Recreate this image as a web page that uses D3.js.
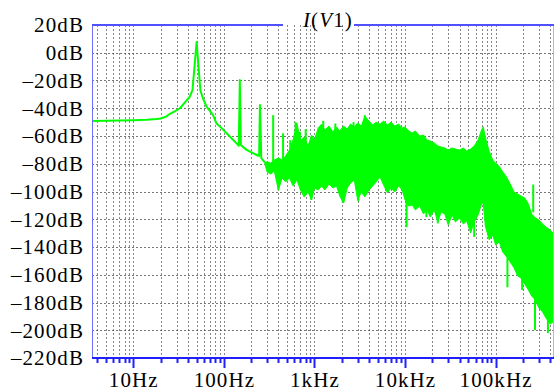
<!DOCTYPE html>
<html>
<head>
<meta charset="utf-8">
<script src="https://cdn.jsdelivr.net/npm/d3@7"></script>
<style>
  html, body { margin: 0; padding: 0; background: #fff; }
  svg { display: block; }
  text { font-family: "Liberation Serif", "Times New Roman", serif; fill: #000; }
</style>
</head>
<body>
<svg id="chart" width="554" height="391"></svg>
<script>
// ---------- data ----------
const xTickValues = [10, 100, 1000, 10000, 100000];
const xTickLabels = ["10Hz", "100Hz", "1kHz", "10kHz", "100kHz"];
const yTickValues = [20, 0, -20, -40, -60, -80, -100, -120, -140, -160, -180, -200, -220];
const yTickLabels = ["20dB", "0dB", "\u201320dB", "\u201340dB", "\u201360dB", "\u201380dB", "\u2013100dB",
                     "\u2013120dB", "\u2013140dB", "\u2013160dB", "\u2013180dB", "\u2013200dB", "\u2013220dB"];
const seriesName = "I(V1)";

// clean low-frequency part of the spectrum (Hz, dB)
const lineFreq = [3.5, 5, 7, 10, 14, 18, 20, 23, 25.4, 29, 32.7, 38, 42, 45, 50, 55, 58.5, 64.5, 76, 83, 95,
                  112, 138, 146, 150, 154, 178, 230, 245, 250, 259, 283];
const lineDb   = [-49.2, -49, -48.8, -48.6, -48.3, -47.8, -47.4, -46, -44, -42, -40, -35, -31.7, -27, 7.7, -27, -32.6, -38.9, -45, -51, -54.5,
                  -59.3, -65.3, -67, -19.6, -66.5, -70, -73.7, -74.4, -37.7, -76, -79];

// dense noisy part: upper and lower envelope (Hz, dB)
const bandFreq = [283, 300, 330, 360, 400, 440, 480, 530, 580, 640, 700, 770, 850, 930, 1000, 1100, 1200, 1300, 1450,
                  1600, 1750, 1900, 2100, 2300, 2500, 2750, 3000, 3300, 3600, 4000, 4400, 4800, 5300, 5800, 6400,
                  7000, 7700, 8500, 9300, 10000, 11000, 12000, 13000, 14500, 16000, 17500, 19000, 21000, 23000,
                  25000, 27500, 30000, 33000, 36000, 40000, 44000, 48000, 53000, 58000, 64000, 70000, 73000, 77000,
                  85000, 93000, 100000, 110000, 120000, 130000, 145000, 160000, 175000, 190000, 210000, 230000,
                  250000, 275000, 300000, 330000, 360000, 400000, 430000];
const bandHigh = [-79, -78.7, -79.5, -77.3, -75.9, -77.3, -74.4, -70.1, -62.9, -50.6, -63.6, -60.7, -67.2, -59.3, -62.9, -54.2, -51.4, -55.7, -52.8,
                  -57.1, -53.5, -56.4, -52.8, -55.0, -51.4, -53.5, -50.6, -52.8, -45.6, -49.2, -52.1, -50.0, -51.4, -49.2, -52.1,
                  -50.0, -52.8, -51.4, -54.2, -53.5, -56.4, -57.8, -56.4, -60.0, -59.3, -62.9, -63.6, -65.0, -67.2,
                  -67.9, -68.6, -70.1, -68.6, -69.4, -70.1, -68.6, -70.8, -69.4, -67.2, -62.9, -55.7, -53.3, -61.0,
                  -71.0, -77.3, -79.5, -82.0, -86.0, -88.8, -94.6, -100.4, -101.8, -103.2, -104.7, -109.0,
                  -116.2, -119.1, -120.5, -123.4, -125.6, -127.7, -129.9];
const bandLow  = [-80, -85.9, -87.4, -85.2, -98.9, -90.2, -93.1, -90.2, -96.0, -91.7, -98.9, -104.0, -100.4, -106.1, -97.5, -98.9, -96.0, -98.9, -94.6,
                  -97.5, -96.0, -103.2, -108.3, -97.5, -93.9, -91.7, -106.1, -100.4, -104.0, -98.9, -96.0, -93.1, -89.5, -95.3, -101.1,
                  -97.5, -100.4, -96.0, -98.9, -106.1, -110.5, -109.7, -113.3, -110.5, -116.2, -113.3, -118.4, -113.3, -122.0,
                  -114.8, -116.2, -124.1, -116.9, -122.0, -119.1, -123.4, -121.3, -129.9, -122.0, -116.9, -109.0, -108.3, -124.9,
                  -134.9, -131.4, -138.5, -136.4, -143.6, -146.5, -150.8, -155.1, -160.9, -162.3, -166.7, -171.0,
                  -175.3, -178.2, -183.9, -186.8, -191.2, -195.5, -194.1];

// narrow spikes (Hz, from dB, to dB)
const spikeFreq = [350, 450, 540, 620, 690, 800, 1250, 1700, 2700, 3600, 260000,
                   400, 920, 2050, 3050, 10400, 17200, 23000, 58000, 135000, 196000, 272000, 378000];
const spikeFrom = [-82, -84, -82, -70, -70, -70, -65, -65, -62, -56, -115,
                   -88, -95, -95, -98, -105, -110, -115, -120, -148, -163, -176, -190];
const spikeTo   = [-45, -58, -63, -50, -57, -55, -49, -51, -50, -45, -95,
                   -99, -106, -108, -107, -125.7, -118.5, -123, -132.8, -169, -171, -199.8, -202];

// ---------- drawing ----------
(function () {
const svg = d3.select("#chart");
const pL = 92, pR = 553, pT = 25, pB = 358;
const x = d3.scaleLog().domain([3.5, 430000]).range([pL, pR]);
const y = d3.scaleLinear().domain([-220, 20]).range([pB, pT]);

const green = "#00ff00";
const gridColor = "#555";

// grid
const minorTicks = x.ticks(60).filter(v => v >= 3.6 && v <= 425000);
const grid = svg.append("g");
grid.selectAll("line.v").data(minorTicks).join("line")
  .attr("x1", d => Math.round(x(d)) + 0.5).attr("x2", d => Math.round(x(d)) + 0.5)
  .attr("y1", pT).attr("y2", pB)
  .attr("stroke", gridColor).attr("stroke-width", 1).attr("stroke-dasharray", "2,2").attr("opacity", 0.7);
grid.selectAll("line.h").data(yTickValues.filter(v => v < 20 && v > -220)).join("line")
  .attr("x1", pL).attr("x2", pR)
  .attr("y1", d => Math.round(y(d)) + 0.5).attr("y2", d => Math.round(y(d)) + 0.5)
  .attr("stroke", gridColor).attr("stroke-width", 1).attr("stroke-dasharray", "2,2").attr("opacity", 0.8);

// data
const plot = svg.append("g");
const lineData = lineFreq.map((f, i) => [f, lineDb[i]]);
plot.append("path").datum(lineData)
  .attr("d", d3.line().x(d => x(d[0])).y(d => y(d[1])))
  .attr("fill", "none").attr("stroke", green).attr("stroke-width", 2).attr("stroke-linejoin", "round");

const bandData = bandFreq.map((f, i) => ({f, hi: bandHigh[i], lo: bandLow[i]}));
plot.append("path").datum(bandData)
  .attr("d", d3.area().x(d => x(d.f)).y0(d => y(d.lo)).y1(d => y(d.hi)))
  .attr("fill", green).attr("stroke", green).attr("stroke-width", 1).attr("stroke-linejoin", "miter");

plot.selectAll("line.spike").data(spikeFreq).join("line")
  .attr("x1", d => x(d)).attr("x2", d => x(d))
  .attr("y1", (d, i) => y(spikeFrom[i])).attr("y2", (d, i) => y(spikeTo[i]))
  .attr("stroke", green).attr("stroke-width", 2);

// frame
svg.append("line").attr("x1", pL + 0.5).attr("x2", pL + 0.5).attr("y1", pT).attr("y2", pB)
  .attr("stroke", "#7070ff").attr("stroke-width", 1);
svg.append("line").attr("x1", pR + 0.5).attr("x2", pR + 0.5).attr("y1", pT).attr("y2", pB)
  .attr("stroke", "#b0b0ff").attr("stroke-width", 1);
svg.append("line").attr("x1", pL).attr("x2", 283).attr("y1", pT).attr("y2", pT)
  .attr("stroke", "#5050ff").attr("stroke-width", 2);
svg.append("line").attr("x1", 354).attr("x2", pR + 1).attr("y1", pT).attr("y2", pT)
  .attr("stroke", "#5050ff").attr("stroke-width", 2);
svg.append("line").attr("x1", pL).attr("x2", pR + 1).attr("y1", pB).attr("y2", pB)
  .attr("stroke", "#2020ff").attr("stroke-width", 2);

// bottom ticks
svg.selectAll("line.tick").data(minorTicks).join("line")
  .attr("x1", d => Math.round(x(d)) + 0.5).attr("x2", d => Math.round(x(d)) + 0.5)
  .attr("y1", pB).attr("y2", d => pB + (xTickValues.includes(d) ? 10 : 5))
  .attr("stroke", "#2020ff").attr("stroke-width", 2);

// labels
svg.selectAll("text.y").data(yTickValues).join("text")
  .attr("x", 84).attr("y", d => y(d) + 7.3)
  .attr("text-anchor", "end").attr("font-size", 21).attr("letter-spacing", "1.1px")
  .text((d, i) => yTickLabels[i]);
svg.selectAll("text.x").data(xTickValues).join("text")
  .attr("x", d => x(d) + 0.5).attr("y", 386.5)
  .attr("text-anchor", "middle").attr("font-size", 21).attr("letter-spacing", "1.1px")
  .text((d, i) => xTickLabels[i]);

// title: I and V italic, the rest upright
const title = svg.append("text").attr("x", 303).attr("y", 27).attr("font-size", 21).attr("letter-spacing", "1.1px");
const parts = [[seriesName.slice(0, 1), true], [seriesName.slice(1, 2), false], [seriesName.slice(2, 3), true], [seriesName.slice(3), false]];
parts.forEach(([t, it]) => title.append("tspan").attr("font-style", it ? "italic" : "normal").text(t));
})();
</script>
</body>
</html>
